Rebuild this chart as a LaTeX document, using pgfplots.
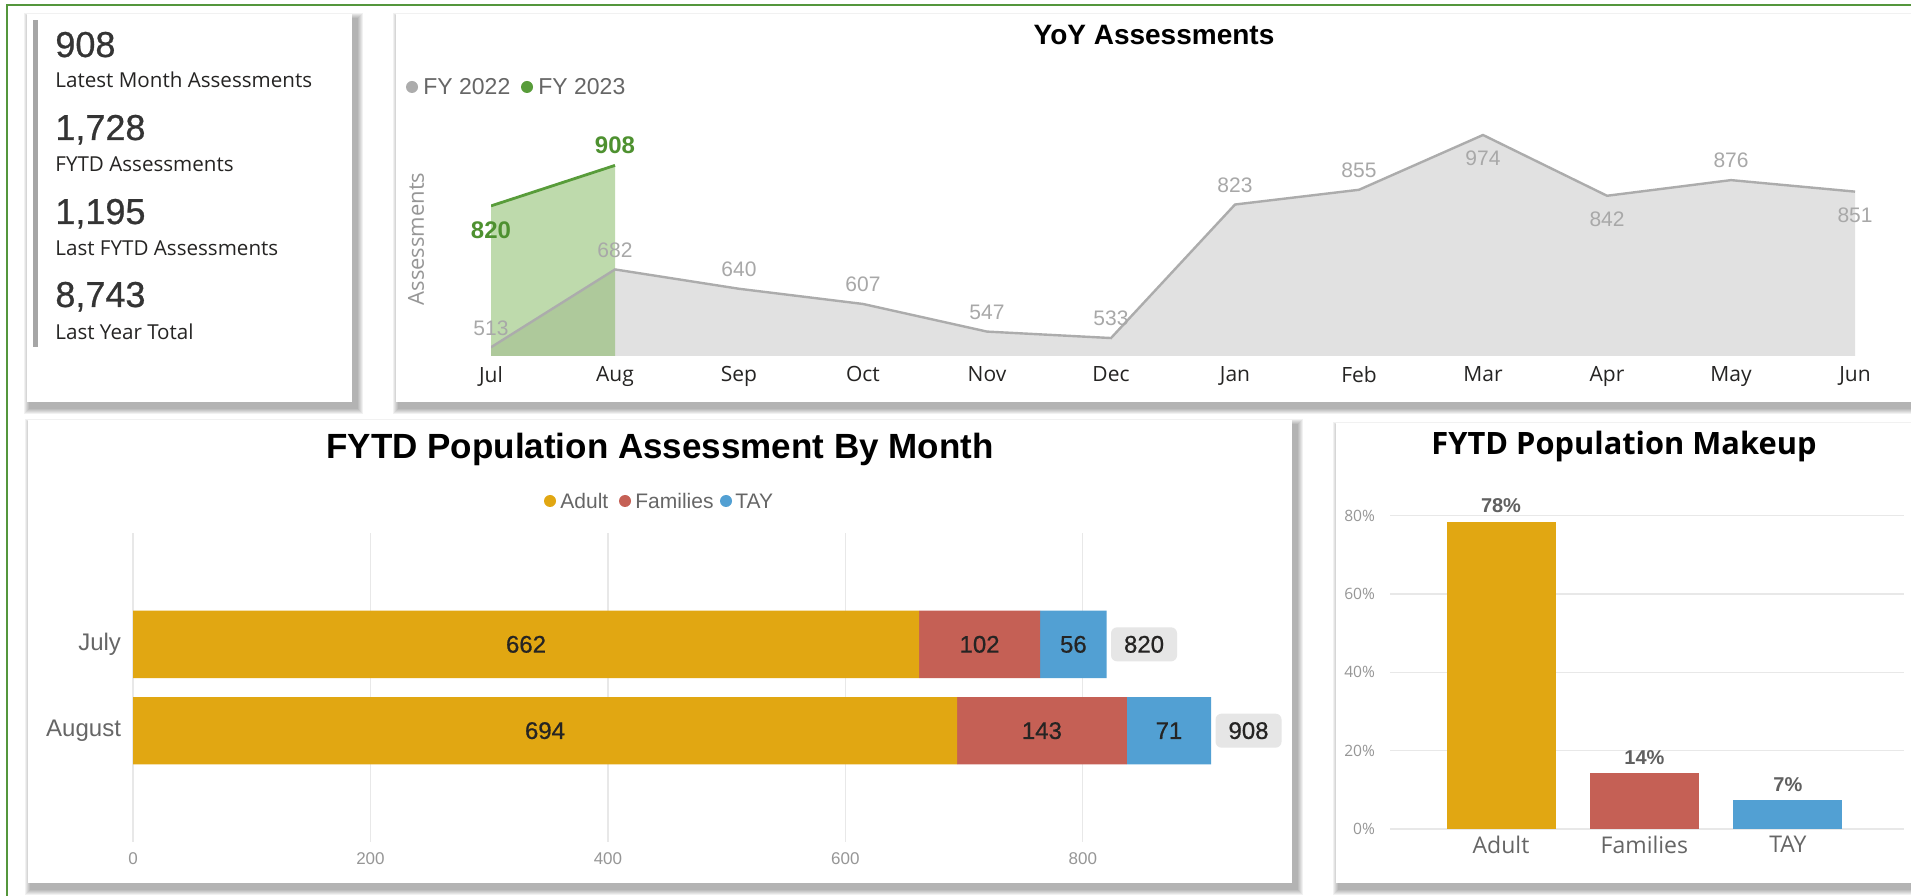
\documentclass[border=0pt]{standalone}
\usepackage{pgfplots}
\pgfplotsset{compat=1.18}
\usepackage{pgfplotstable}
\usepackage{fontspec}
\setmainfont{Open Sans}
\newfontfamily\din{Liberation Sans}
\newfontfamily\dinm[FakeBold=0.7]{Liberation Sans}

\definecolor{frame}{RGB}{84,150,60}
\definecolor{adult}{RGB}{225,167,18}
\definecolor{fam}{RGB}{197,96,85}
\definecolor{tay}{RGB}{82,160,211}
\definecolor{gline}{RGB}{172,172,172}
\definecolor{gfill}{RGB}{225,225,225}
\definecolor{gr}{RGB}{112,173,71}
\definecolor{grline}{RGB}{88,156,58}
\definecolor{grlab}{RGB}{78,145,48}
\definecolor{lab}{RGB}{168,168,168}
\definecolor{txt}{RGB}{37,36,35}
\definecolor{sub}{RGB}{102,102,102}
\definecolor{tick}{RGB}{150,150,150}
\definecolor{gridc}{RGB}{232,232,232}
\definecolor{kpi}{RGB}{52,52,52}
\definecolor{kpibar}{RGB}{166,166,166}
\definecolor{boxg}{RGB}{230,230,230}
\definecolor{pct}{RGB}{96,96,96}

\newcommand{\card}[4]{%
  \foreach \k in {0,...,5} {\fill[black,opacity=0.055] ({#1+2-\k},{#2-7-\k}) rectangle ({#3+6+\k},{#4-4+\k});}
  \fill[white] (#1,#2) rectangle (#3,#4);
}

% FY 2022 monthly assessments (0 = Jul ... 11 = Jun)
\pgfplotstableread{
i v
0 513
1 682
2 640
3 607
4 547
5 533
6 823
7 855
8 974
9 842
10 876
11 851
}\fyA
% labels drawn above / below the FY 2022 line
\pgfplotstableread{
i v
0 513
1 682
2 640
3 607
4 547
5 533
6 823
7 855
10 876
}\fyAup
\pgfplotstableread{
i v
8 974
9 842
11 851
}\fyAdn

% FY 2023
\pgfplotstableread{
i v
0 820
1 908
}\fyB
\pgfplotstableread{
i v
1 908
}\fyBup
\pgfplotstableread{
i v
0 820
}\fyBdn

\pgfplotstableread{
m a f t tot
0 662 102 56 820
1 694 143 71 908
}\pop

\begin{document}
\begin{tikzpicture}
\useasboundingbox (0,0) rectangle (955.5pt,447.5pt);
\begin{scope}[x=0.5pt,y=0.5pt]
  \fill[white] (0,0) rectangle (1911,895);
  \card{27}{493}{352}{881}
  \card{396}{493}{1930}{881}
  \card{28}{12}{1292}{475}
  \card{1336}{12}{1930}{472}
  \draw[frame, line width=1pt] (7,-20) -- (7,890) -- (1930,890);
  % KPI card
  \fill[kpibar] (33,548) rectangle (38,875);
  \begin{scope}[every node/.style={anchor=base west, inner sep=0pt}]
    \node[font=\dinm\fontsize{18}{20}\selectfont, text=kpi] at (55,838) {908};
    \node[font=\fontsize{10.3}{12}\selectfont, text=txt] at (55,807) {Latest Month Assessments};
    \node[font=\dinm\fontsize{18}{20}\selectfont, text=kpi] at (55,755) {1,728};
    \node[font=\fontsize{10.3}{12}\selectfont, text=txt] at (55,723) {FYTD Assessments};
    \node[font=\dinm\fontsize{18}{20}\selectfont, text=kpi] at (55,671) {1,195};
    \node[font=\fontsize{10.3}{12}\selectfont, text=txt] at (55,639) {Last FYTD Assessments};
    \node[font=\dinm\fontsize{18}{20}\selectfont, text=kpi] at (55,588) {8,743};
    \node[font=\fontsize{10.3}{12}\selectfont, text=txt] at (55,555) {Last Year Total};
  \end{scope}
  % titles
  \node[anchor=base, inner sep=0pt, font=\din\bfseries\fontsize{14}{16}\selectfont, text=black] at (1154,850) {YoY Assessments};
  \node[anchor=base, inner sep=0pt, font=\din\bfseries\fontsize{17.5}{20}\selectfont, text=black] at (660,436) {FYTD Population Assessment By Month};
  \node[anchor=base, inner sep=0pt, font=\bfseries\fontsize{15.4}{18}\selectfont, text=black] at (1624,440) {FYTD Population Makeup};
  % YoY legend
  \fill[gline] (412,808) circle (6);
  \node[anchor=west, inner sep=0pt, font=\din\fontsize{11.5}{13}\selectfont, text=sub] at (423,808) {FY 2022};
  \fill[grline] (527,808) circle (6);
  \node[anchor=west, inner sep=0pt, font=\din\fontsize{11.5}{13}\selectfont, text=sub] at (538,808) {FY 2023};
  \node[rotate=90, inner sep=0pt, font=\fontsize{11}{13}\selectfont, text=tick] at (416,656) {Assessments};
  % population legend
  \fill[adult] (550,394) circle (6);
  \node[anchor=west, inner sep=0pt, font=\din\fontsize{10.5}{12}\selectfont, text=sub] at (560,394) {Adult};
  \fill[fam] (625,394) circle (6);
  \node[anchor=west, inner sep=0pt, font=\din\fontsize{10.5}{12}\selectfont, text=sub] at (635,394) {Families};
  \fill[tay] (726,394) circle (6);
  \node[anchor=west, inner sep=0pt, font=\din\fontsize{10.5}{12}\selectfont, text=sub] at (735,394) {TAY};
\end{scope}

% ---------------- YoY area chart
\begin{axis}[
  at={(245.5pt,269.5pt)}, anchor=south west,
  width=682pt, height=128pt, scale only axis,
  xmin=0, xmax=11, ymin=494, ymax=1050,
  axis line style={draw=none}, major tick length=0pt,
  ytick=\empty,
  xtick={0,...,11},
  xticklabels={Jul,Aug,Sep,Oct,Nov,Dec,Jan,Feb,Mar,Apr,May,Jun},
  xticklabel style={font=\fontsize{10.5}{12}\selectfont, text=txt, yshift=-1.5pt},
]
\addplot[fill=gfill, draw=none] table[x=i, y=v] \fyA \closedcycle;
\addplot[fill=gr, fill opacity=0.45, draw=none] table[x=i, y=v] \fyB \closedcycle;
\addplot[gline, line width=1.2pt, mark=none] table[x=i, y=v] \fyA;
\addplot[grline, line width=1.4pt, mark=none] table[x=i, y=v] \fyB;
% data labels
\addplot[draw=none, mark=none, nodes near coords, point meta=explicit symbolic,
  every node near coord/.append style={anchor=center, yshift=9.7pt, font=\din\fontsize{10.5}{12}\selectfont, text=lab}]
  table[x=i, y=v, meta=v] \fyAup;
\addplot[draw=none, mark=none, nodes near coords, point meta=explicit symbolic,
  every node near coord/.append style={anchor=center, yshift=-11.6pt, font=\din\fontsize{10.5}{12}\selectfont, text=lab}]
  table[x=i, y=v, meta=v] \fyAdn;
\addplot[draw=none, mark=none, nodes near coords, point meta=explicit symbolic,
  every node near coord/.append style={anchor=center, yshift=10pt, font=\din\bfseries\fontsize{12}{14}\selectfont, text=grlab}]
  table[x=i, y=v, meta=v] \fyBup;
\addplot[draw=none, mark=none, nodes near coords, point meta=explicit symbolic,
  every node near coord/.append style={anchor=center, yshift=-12pt, font=\din\bfseries\fontsize{12}{14}\selectfont, text=grlab}]
  table[x=i, y=v, meta=v] \fyBdn;
\end{axis}

% ---------------- FYTD population by month (bars)
\begin{axis}[
  at={(66.5pt,26.5pt)}, anchor=south west,
  width=564pt, height=154.5pt, scale only axis,
  xmin=0, xmax=950, ymin=-1.29, ymax=2.29, y dir=reverse,
  xbar stacked, bar width=0.78,
  axis line style={draw=none}, major tick length=0pt,
  xtick={0,200,400,600,800}, xticklabels={0,200,400,600,800},
  ytick={0,1}, yticklabels={July,August},
  xmajorgrids, ymajorgrids=false, grid style={draw=gridc, line width=0.6pt},
  xticklabel style={font=\din\fontsize{8.5}{10}\selectfont, text=tick, yshift=-2pt},
  yticklabel style={font=\din\fontsize{12}{14}\selectfont, text=sub, xshift=-2.5pt},
]
\addplot[fill=adult, draw=none] table[x=a, y=m] \pop;
\addplot[fill=fam, draw=none] table[x=f, y=m] \pop;
\addplot[fill=tay, draw=none] table[x=t, y=m] \pop;
\end{axis}
% ---------------- FYTD population by month (data labels, same geometry)
\begin{axis}[
  at={(66.5pt,26.5pt)}, anchor=south west,
  width=564pt, height=154.5pt, scale only axis,
  xmin=0, xmax=950, ymin=-1.29, ymax=2.29, y dir=reverse,
  hide axis, clip=false,
  point meta=explicit symbolic, nodes near coords,
  every node near coord/.append style={anchor=center, font=\dinm\fontsize{12}{14}\selectfont, text=txt},
]
\addplot[draw=none, mark=none] table[x expr=\thisrow{a}/2, y=m, meta=a] \pop;
\addplot[draw=none, mark=none] table[x expr=\thisrow{a}+\thisrow{f}/2, y=m, meta=f] \pop;
\addplot[draw=none, mark=none] table[x expr=\thisrow{a}+\thisrow{f}+\thisrow{t}/2, y=m, meta=t] \pop;
\addplot[draw=none, mark=none,
  every node near coord/.append style={anchor=west, xshift=2pt, fill=boxg, rounded corners=3pt, minimum width=33pt, minimum height=17pt, inner sep=1pt}]
  table[x=tot, y=m, meta=tot] \pop;
\end{axis}

% ---------------- FYTD population makeup
\begin{axis}[
  at={(695pt,33pt)}, anchor=south west,
  width=257pt, height=166.4pt, scale only axis,
  xmin=-0.774, xmax=2.81, ymin=0, ymax=85,
  ybar, bar width=0.76,
  /pgf/number format/assume math mode=true,
  axis line style={draw=none}, major tick length=0pt,
  xtick={0,1,2}, xticklabels={Adult,Families,TAY},
  ytick={0,20,40,60,80}, yticklabels={0\%,20\%,40\%,60\%,80\%},
  ymajorgrids, xmajorgrids=false, grid style={draw=gridc, line width=0.6pt},
  xticklabel style={font=\fontsize{11.5}{13}\selectfont, text=sub},
  yticklabel style={font=\fontsize{7.8}{9}\selectfont, text=tick, xshift=-4pt},
  nodes near coords={\pgfmathprintnumber[fixed,precision=0]{\pgfplotspointmeta}\%},
  every node near coord/.append style={font=\din\bfseries\fontsize{10}{12}\selectfont, text=pct, yshift=1pt},
]
\addplot[fill=adult, draw=none, bar shift=0pt] coordinates {(0,78.47)};
\addplot[fill=fam, draw=none, bar shift=0pt] coordinates {(1,14.18)};
\addplot[fill=tay, draw=none, bar shift=0pt] coordinates {(2,7.35)};
\end{axis}
\end{tikzpicture}
\end{document}
